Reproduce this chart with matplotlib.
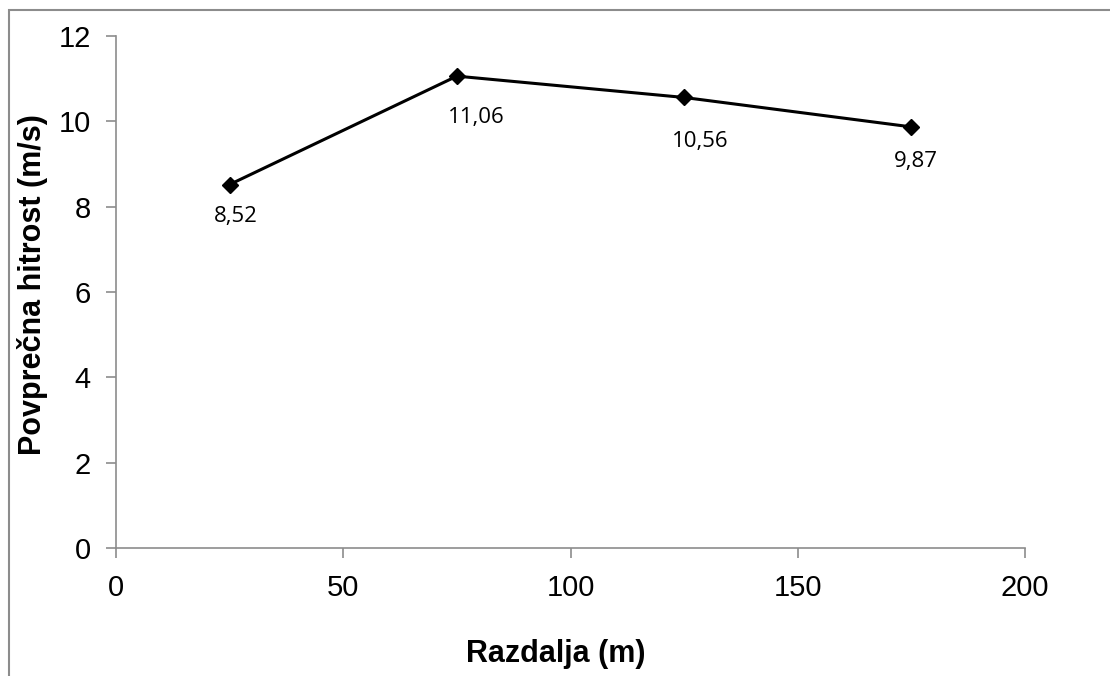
import matplotlib.pyplot as plt
from matplotlib.patches import Rectangle

razdalja = [25, 75, 125, 175]
hitrost = [8.52, 11.06, 10.56, 9.87]
x_ticks = [0, 50, 100, 150, 200]
y_ticks = [0, 2, 4, 6, 8, 10, 12]

# zamiki oznak vrednosti (v točkah)
zamiki = [(4.3, -23), (13.7, -29.5), (11.5, -31.7), (2.9, -25.2)]

fig = plt.figure(figsize=(11.1, 6.76), dpi=100)
ax = fig.add_axes([0.1045, 0.1893, 0.819, 0.7574])

# okvir grafa
fig.patches.append(Rectangle((0.0077, -0.1), 1.2, 1.0845, transform=fig.transFigure,
                             fill=False, edgecolor='#8c8c8c', linewidth=1.5))

ax.plot(razdalja, hitrost, color='black', linewidth=2.2, marker='D', markersize=8,
        markerfacecolor='black', markeredgecolor='black', clip_on=False)

for x, y, dxy in zip(razdalja, hitrost, zamiki):
    ax.annotate(f'{y:.2f}'.replace('.', ','), (x, y), textcoords='offset points',
                xytext=dxy, ha='center', va='center', fontsize=16, family='Open Sans')

ax.set_xlim(0, 200)
ax.set_ylim(0, 12)
ax.set_xticks(x_ticks)
ax.set_yticks(y_ticks)
for spine in ['top', 'right']:
    ax.spines[spine].set_visible(False)
for spine in ['left', 'bottom']:
    ax.spines[spine].set_color('#8c8c8c')
    ax.spines[spine].set_linewidth(1.2)
ax.tick_params(direction='out', length=7, width=1.2, color='#8c8c8c', labelsize=21)
ax.tick_params(axis='x', pad=12)
ax.tick_params(axis='y', pad=11)
for lbl in ax.get_xticklabels() + ax.get_yticklabels():
    lbl.set_family('Liberation Sans')

ax.set_xlabel('Razdalja (m)', fontsize=22, fontweight='bold', family='Liberation Sans', va='center')
ax.set_ylabel('Povprečna hitrost (m/s)', fontsize=22, fontweight='bold', family='Liberation Sans', va='center')
ax.xaxis.set_label_coords(0.484, -0.207)
ax.yaxis.set_label_coords(-0.0913, 0.514)

fig.savefig('out.png', dpi=100)
